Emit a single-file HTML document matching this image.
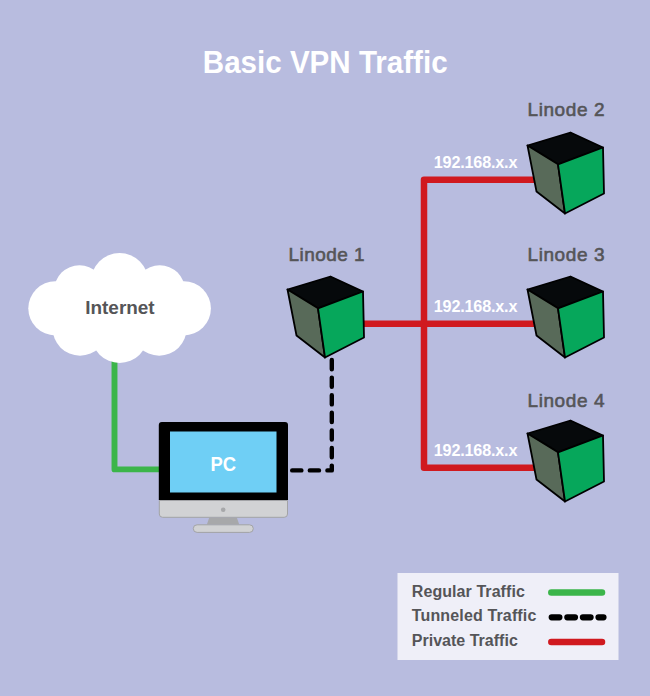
<!DOCTYPE html>
<html><head><meta charset="utf-8">
<style>
html,body{margin:0;padding:0;}
body{width:650px;height:696px;background:#b8bcdf;overflow:hidden;position:relative;font-family:"Liberation Sans",sans-serif;}
svg{position:absolute;left:0;top:0;}
</style></head>
<body>
<svg width="650" height="696" viewBox="0 0 650 696" font-family="Liberation Sans, sans-serif">
<defs>
<g id="cube" stroke="#000" stroke-width="1.8" stroke-linejoin="round">
  <path d="M287.5 289.5 L330.5 276.5 L363 291.5 L318 308.3 Z" fill="#06090b"/>
  <path d="M287.5 289.5 L318 308.3 L325 357.5 L296.5 335.5 Z" fill="#586a59"/>
  <path d="M318 308.3 L363 291.5 L364 337.5 L325 357.5 Z" fill="#06a75b"/>
</g>
</defs>
<rect width="650" height="696" fill="#b8bcdf"/>
<text x="202.8" y="73" font-size="30.6" font-weight="bold" fill="#fff" textLength="244.8" lengthAdjust="spacingAndGlyphs">Basic VPN Traffic</text>

<!-- red lines -->
<path d="M540 179.7 H424 V467.7 H540 M355 323.7 H540" fill="none" stroke="#d0191f" stroke-width="6.5" stroke-linejoin="round"/>

<!-- green -->
<path d="M114.5 350 V469.4 H160" fill="none" stroke="#3bb54a" stroke-width="5.9" stroke-linejoin="round"/>

<!-- dashed -->
<path d="M331.8 360 V470.4 H286" fill="none" stroke="#000" stroke-width="4.4" stroke-linecap="round" stroke-linejoin="round" stroke-dasharray="9.2 8.4"/>

<!-- cloud -->
<g fill="#fff">
  <circle cx="119.6" cy="281.8" r="28.7"/>
  <circle cx="79.5" cy="290.5" r="25.3"/>
  <circle cx="159.7" cy="290.5" r="25.3"/>
  <circle cx="55.4" cy="308.3" r="27.1"/>
  <circle cx="183.8" cy="308.3" r="27.1"/>
  <circle cx="80" cy="328.3" r="27.4"/>
  <circle cx="159.2" cy="328.3" r="27.4"/>
  <circle cx="119.6" cy="334.7" r="28.3"/>
  <rect x="56" y="286" width="128" height="44"/>
</g>
<text x="85.2" y="314.4" font-size="18.3" font-weight="bold" fill="#555558" textLength="69.5" lengthAdjust="spacingAndGlyphs">Internet</text>

<!-- monitor -->
<path d="M158.8 500 V425 Q158.8 422 161.8 422 H285 Q288 422 288 425 V500 Z" fill="#000"/>
<rect x="170" y="431.5" width="106.5" height="61" fill="#6fcff5"/>
<text x="210.4" y="471" font-size="19.4" font-weight="bold" fill="#fff" textLength="25.6" lengthAdjust="spacingAndGlyphs">PC</text>
<path d="M159.3 500.5 H287.5 V514 Q287.5 517.3 284.2 517.3 H162.6 Q159.3 517.3 159.3 514 Z" fill="#d1d2d4" stroke="#a2a3a6" stroke-width="1"/>
<circle cx="223.2" cy="509.7" r="2.3" fill="#a7a8aa"/>
<path d="M209.2 517.8 H236.9 L239.2 524.5 H206.9 Z" fill="#a7a8aa"/>
<rect x="193.3" y="524.8" width="60" height="7.6" rx="3.8" fill="#d1d2d4" stroke="#a2a3a6" stroke-width="1"/>

<!-- cubes -->
<use href="#cube"/>
<use href="#cube" x="240" y="-144"/>
<use href="#cube" x="240" y="0"/>
<use href="#cube" x="240" y="144"/>

<!-- labels -->
<g font-size="19" fill="#555558" stroke="#555558" stroke-width="0.6" lengthAdjust="spacingAndGlyphs">
<text x="288.5" y="260.8" textLength="76">Linode 1</text>
<text x="527.5" y="115.8" textLength="77">Linode 2</text>
<text x="527.5" y="260.8" textLength="77">Linode 3</text>
<text x="527.5" y="406.9" textLength="77">Linode 4</text>
</g>
<g font-size="16.2" font-weight="bold" fill="#fff" lengthAdjust="spacingAndGlyphs">
<text x="433.8" y="167.5" textLength="83.6">192.168.x.x</text>
<text x="433.8" y="311.5" textLength="83.6">192.168.x.x</text>
<text x="433.8" y="455.5" textLength="83.6">192.168.x.x</text>
</g>

<!-- legend -->
<rect x="397.5" y="573" width="221" height="87" fill="#efeff8"/>
<g font-size="16" font-weight="bold" fill="#555558" lengthAdjust="spacingAndGlyphs">
<text x="411.8" y="596.6" textLength="113">Regular Traffic</text>
<text x="411.8" y="620.7" textLength="124.5">Tunneled Traffic</text>
<text x="411.8" y="645.9" textLength="106">Private Traffic</text>
</g>
<path d="M551.3 592.5 H602" stroke="#3bb54a" stroke-width="6.5" stroke-linecap="round"/>
<path d="M551.7 617.3 H603.5" stroke="#000" stroke-width="6.2" stroke-linecap="round" stroke-dasharray="7.7 7.9"/>
<path d="M551.3 641.9 H602" stroke="#d0191f" stroke-width="6.5" stroke-linecap="round"/>
</svg>
</body></html>
